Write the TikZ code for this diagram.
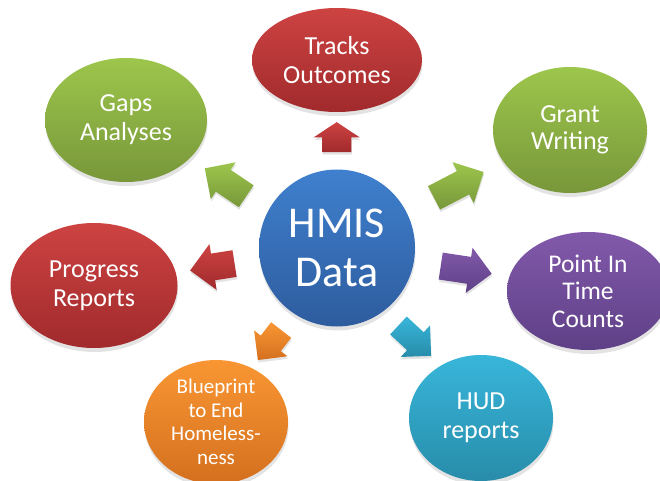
\documentclass[tikz,border=0pt]{standalone}
\usepackage{fontspec}
\setmainfont{Carlito}
\usetikzlibrary{shapes.geometric,shapes.arrows,shadows}
\definecolor{rdT}{HTML}{CD4342}\definecolor{rdB}{HTML}{A12A2C}
\definecolor{grT}{HTML}{9DC64C}\definecolor{grB}{HTML}{78973A}
\definecolor{blT}{HTML}{3F80CE}\definecolor{blB}{HTML}{2E5C9E}
\definecolor{puT}{HTML}{8259AA}\definecolor{puB}{HTML}{5E4086}
\definecolor{tlT}{HTML}{38B6DA}\definecolor{tlB}{HTML}{288CAA}
\definecolor{orT}{HTML}{F99633}\definecolor{orB}{HTML}{D4701E}
\tikzset{
  bubble/.style={ellipse, inner sep=0pt, outer sep=0pt, text=white, align=center,
    font=\fontsize{26}{29}\selectfont,
    drop shadow={shadow xshift=0.5pt, shadow yshift=-4pt, opacity=0.22}},
  redfill/.style={top color=rdT, bottom color=rdB},
  greenfill/.style={top color=grT, bottom color=grB},
  bluefill/.style={top color=blT, bottom color=blB},
  purplefill/.style={top color=puT, bottom color=puB},
  tealfill/.style={top color=tlT, bottom color=tlB},
  orangefill/.style={top color=orT, bottom color=orB},
  blockarrow/.style={single arrow, inner xsep=0pt, outer sep=0pt,
    single arrow head indent=0pt,
    drop shadow={shadow xshift=0.5pt, shadow yshift=-2.5pt, opacity=0.22}}
}
\begin{document}
\begin{tikzpicture}[x=1pt,y=1pt]
\useasboundingbox (0,0) rectangle (660,480);
% outer bubbles
\node[bubble, redfill, minimum width=170pt, minimum height=104pt] (tracks) at (337,420) {Tracks\\Outcomes};
\node[bubble, greenfill, minimum width=162pt, minimum height=124pt] (gaps) at (126,360) {Gaps\\Analyses};
\node[bubble, greenfill, minimum width=154pt, minimum height=126pt, font=\fontsize{26}{27}\selectfont] (grant) at (570,350) {Grant\\Writing};
\node[bubble, redfill, minimum width=167pt, minimum height=125pt] (progress) at (94,194.5) {Progress\\Reports};
\node[bubble, purplefill, minimum width=162pt, minimum height=118pt, font=\fontsize{25.5}{27.5}\selectfont] (pit) at (588,189) {Point In\\Time\\Counts};
\node[bubble, orangefill, minimum width=144pt, minimum height=124pt, font=\fontsize{21}{23.5}\selectfont] (blue) at (216,58) {Blueprint\\to End\\Homeless-\\ness};
\node[bubble, tealfill, minimum width=144pt, minimum height=126pt] (hud) at (481,62) {HUD\\reports};
% center
\node[bubble, bluefill, minimum width=156pt, minimum height=157pt, font=\fontsize{44}{49}\selectfont] (hmis) at (337,232) {HMIS\\Data};
% block arrows (inner ysep = half shaft width)
\node[blockarrow, redfill, inner ysep=14.5pt, minimum height=30pt, single arrow head extend=8.5pt, single arrow tip angle=113, rotate=90] (a1) at (336.7,338) {};
\node[blockarrow, greenfill, inner ysep=13pt, minimum height=50pt, single arrow head extend=9pt, rotate=146] (a2) at (231,294) {};
\node[blockarrow, greenfill, inner ysep=13pt, minimum height=56pt, single arrow head extend=10pt, rotate=27.5] (a3) at (453,292) {};
\node[blockarrow, redfill, inner ysep=13.3pt, minimum height=45pt, single arrow head extend=9.7pt, rotate=188.9] (a4) at (219,214) {};
\node[blockarrow, purplefill, inner ysep=13.4pt, minimum height=51.6pt, single arrow head extend=9.3pt, rotate=-8.6] (a5) at (459.5,211.1) {};
\node[blockarrow, orangefill, inner ysep=12.5pt, minimum height=38pt, single arrow head extend=8.4pt, rotate=232.2] (a6) at (273.4,140) {};
\node[blockarrow, tealfill, inner ysep=12pt, minimum height=44.6pt, single arrow head extend=9.3pt, rotate=-42.9] (a7) at (410.3,143.5) {};
\end{tikzpicture}
\end{document}
